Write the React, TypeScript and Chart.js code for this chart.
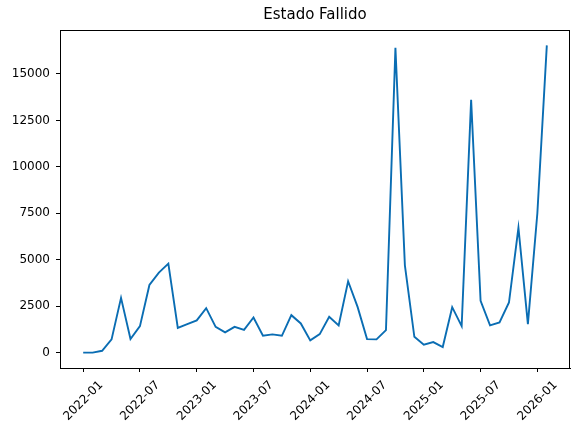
import React, { useEffect, useRef } from "react";
import { Chart, registerables } from "chart.js";

Chart.register(...registerables);

const months: string[] = [
  "2022-01","2022-02","2022-03","2022-04","2022-05","2022-06","2022-07","2022-08","2022-09","2022-10","2022-11","2022-12",
  "2023-01","2023-02","2023-03","2023-04","2023-05","2023-06","2023-07","2023-08","2023-09","2023-10","2023-11","2023-12",
  "2024-01","2024-02","2024-03","2024-04","2024-05","2024-06","2024-07","2024-08","2024-09","2024-10","2024-11","2024-12",
  "2025-01","2025-02","2025-03","2025-04","2025-05","2025-06","2025-07","2025-08","2025-09","2025-10","2025-11","2025-12",
  "2026-01","2026-02",
];

const values: number[] = [
  0, 0, 100, 714, 2946, 730, 1427, 3643, 4307, 4790, 1336, 1534,
  1733, 2393, 1390, 1089, 1390, 1229, 1894, 907, 982, 907, 2017, 1572,
  660, 998, 1926, 1465, 3841, 2463, 730, 714, 1212, 16411, 4700, 855,
  425, 569, 300, 2446, 1427, 13606, 2785, 1465, 1625, 2698, 6722, 1534,
  7500, 16540,
];

const xTickLabels: string[] = ["2022-01","2022-07","2023-01","2023-07","2024-01","2024-07","2025-01","2025-07","2026-01"];
const yTickValues: number[] = [0, 2500, 5000, 7500, 10000, 12500, 15000];
const titleText = "Estado Fallido";

const FONT = "'DejaVu Sans', sans-serif";

export default function App() {
  const ref = useRef<HTMLCanvasElement | null>(null);

  useEffect(() => {
    document.body.style.margin = "0";
    const canvas = ref.current;
    if (!canvas) return;

    const n = values.length;
    const span = n - 1;
    const xMin = -0.05 * span;
    const xMax = span + 0.05 * span;
    const vMax = Math.max(...values);
    const vMin = Math.min(...values);
    const yr = vMax - vMin;
    const yMin = vMin - 0.05 * yr;
    const yMax = vMax + 0.05 * yr;

    const xTickIdx = xTickLabels.map((l) => months.indexOf(l));

    const framePlugin = {
      id: "frame",
      afterDraw(chart: any) {
        const { ctx, chartArea } = chart;
        ctx.save();
        ctx.strokeStyle = "#000";
        ctx.lineWidth = 1;
        ctx.strokeRect(chartArea.left + 0.5, chartArea.top + 0.5, chartArea.right - chartArea.left - 1, chartArea.bottom - chartArea.top);
        ctx.fillStyle = "#000";
        ctx.font = `15px ${FONT}`;
        ctx.textAlign = "center";
        ctx.textBaseline = "middle";
        ctx.fillText(titleText, (chartArea.left + chartArea.right) / 2, 15);
        ctx.restore();
      },
    };

    const chart = new Chart(canvas, {
      type: "line",
      data: {
        datasets: [
          {
            data: values.map((v, i) => ({ x: i, y: v })),
            borderColor: "#0a6db3",
            borderWidth: 1.9,
            pointRadius: 0,
            tension: 0,
            fill: false,
          },
        ],
      },
      options: {
        animation: false,
        responsive: false,
        layout: { padding: { top: 30, right: 10, left: 0, bottom: 0 } },
        plugins: { legend: { display: false }, tooltip: { enabled: false }, title: { display: false } },
        scales: {
          x: {
            type: "linear",
            min: xMin,
            max: xMax,
            afterBuildTicks: (s: any) => {
              s.ticks = xTickIdx.map((v) => ({ value: v }));
            },
            afterFit: (s: any) => {
              s.height = 65;
            },
            border: { display: true, color: "#000", width: 1 },
            grid: { drawOnChartArea: false, drawTicks: true, tickLength: 4, color: "#000" },
            ticks: {
              autoSkip: false,
              maxRotation: 45,
              minRotation: 45,
              labelOffset: 18,
              padding: 6,
              color: "#000",
              font: { family: FONT, size: 12 },
              callback: (v: any) => months[Math.round(Number(v))] ?? "",
            },
          },
          y: {
            type: "linear",
            min: yMin,
            max: yMax,
            afterBuildTicks: (s: any) => {
              s.ticks = yTickValues.map((v) => ({ value: v }));
            },
            afterFit: (s: any) => {
              s.width = 60;
            },
            border: { display: true, color: "#000", width: 1 },
            grid: { drawOnChartArea: false, drawTicks: true, tickLength: 4, color: "#000" },
            ticks: {
              padding: 6,
              color: "#000",
              font: { family: FONT, size: 12 },
              callback: (v: any) => String(v),
            },
          },
        },
      },
      plugins: [framePlugin],
    });

    return () => chart.destroy();
  }, []);

  return (
    <div style={{ position: "fixed", left: 0, top: 0, width: 580, height: 433, background: "#fff" }}>
      <canvas ref={ref} width={580} height={433} style={{ width: 580, height: 433, display: "block" }} />
    </div>
  );
}
